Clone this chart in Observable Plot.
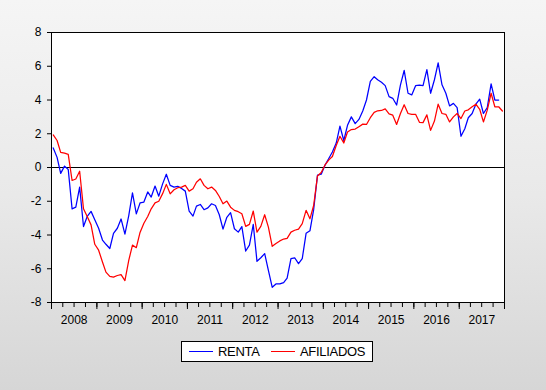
<!DOCTYPE html>
<html>
<head>
<meta charset="utf-8">
<script src="https://cdn.jsdelivr.net/npm/d3@7"></script>
<script src="https://cdn.jsdelivr.net/npm/@observablehq/plot@0.6"></script>
<style>
  html, body { margin: 0; padding: 0; }
  body {
    width: 546px; height: 390px; overflow: hidden; position: relative;
    background: linear-gradient(to bottom, #f5f5f5 0%, #e9e9e9 50%, #d6d6d6 100%);
    font-family: "Liberation Sans", Arial, sans-serif;
  }
  #chart { position: absolute; left: 0; top: 0; }
  #legend {
    position: absolute; left: 181px; top: 341px; width: 190px; height: 19px;
    border: 1px solid #000; background: #fff; font-size: 13px; letter-spacing: -0.3px; color: #000;
  }
  #legend .sw { position: absolute; top: 9px; height: 1px; width: 24px; }
  #legend .lb { position: absolute; top: 2px; line-height: 15px; }
</style>
</head>
<body>
<div id="chart"></div>
<div id="legend"></div>
<script>
// ---- data (monthly, starting January 2008) ----
const startYear = 2008;
const seriesNames = ["RENTA", "AFILIADOS"];
const seriesColors = ["#0000ff", "#ff0000"];

const renta = [
  1.16, 0.6, -0.35, 0.08, -0.12, -2.45, -2.35, -1.16, -3.5, -2.9, -2.6, -3.1,
  -3.6, -4.3, -4.55, -4.8, -3.9, -3.6, -3.05, -3.95, -2.85, -1.5, -2.75, -2.1,
  -2.05, -1.45, -1.75, -1.1, -1.7, -0.97, -0.4, -1.06, -1.16, -1.12, -1.24, -1.4,
  -2.58, -2.88, -2.29, -2.19, -2.5, -2.39, -2.15, -2.25, -2.8, -3.65, -2.95, -2.68,
  -3.63, -3.83, -3.5, -4.95, -4.6, -3.37, -5.56, -5.35, -5.1, -6.1, -7.1, -6.9,
  -6.9, -6.82, -6.55, -5.4, -5.35, -5.7, -5.4, -3.9, -3.75, -2.5, -0.45, -0.4,
  0.15, 0.55, 0.92, 1.45, 2.45, 1.6, 2.5, 3.0, 2.6, 2.85, 3.35, 4.0,
  5.1, 5.38, 5.2, 5.05, 4.85, 4.2, 4.1, 3.7, 4.9, 5.75, 4.4, 4.3,
  4.85, 4.88, 4.85, 5.8, 4.4, 5.2, 6.2, 4.9, 4.4, 3.65, 3.8, 3.55,
  1.85, 2.3, 2.95, 3.2, 3.75, 4.05, 3.2, 3.55, 4.95, 4.0, 4.0
];

const afiliados = [
  1.93, 1.6, 0.9, 0.85, 0.78, -0.77, -0.68, -0.22, -2.45, -2.9, -3.4, -4.55,
  -4.9, -5.6, -6.2, -6.45, -6.5, -6.4, -6.35, -6.7, -5.5, -4.6, -4.75, -3.85,
  -3.3, -2.9, -2.45, -2.1, -2.0, -1.55, -1.0, -1.56, -1.32, -1.2, -1.16, -1.06,
  -1.4, -1.26, -0.87, -0.67, -1.06, -1.26, -1.16, -1.36, -1.72, -2.15, -1.99, -2.35,
  -2.54, -2.62, -2.74, -3.49, -3.37, -2.58, -3.83, -3.49, -2.8, -3.53, -4.67, -4.5,
  -4.35, -4.24, -4.2, -3.83, -3.72, -3.65, -3.33, -2.54, -3.04, -2.25, -0.5, -0.3,
  0.15, 0.45, 0.65, 1.3, 1.85, 1.45, 2.1, 2.25, 2.28, 2.42, 2.57, 2.55,
  2.95, 3.27, 3.36, 3.38, 3.47, 3.18, 3.1, 2.55, 3.2, 3.72, 3.2, 3.15,
  3.15, 2.68, 2.66, 3.12, 2.2, 2.75, 3.75, 3.2, 3.15, 2.7, 3.0, 3.2,
  2.9, 3.35, 3.42, 3.6, 3.75, 3.45, 2.7, 3.4, 4.4, 3.6, 3.6, 3.35
];

const yTicks = [-8, -6, -4, -2, 0, 2, 4, 6, 8];
const yearLabels = [2008, 2009, 2010, 2011, 2012, 2013, 2014, 2015, 2016, 2017];

// ---- build table ----
const monthDate = i => new Date(Date.UTC(startYear, i, 15));
const rows = [];
[renta, afiliados].forEach((arr, s) =>
  arr.forEach((v, i) => rows.push({date: monthDate(i), value: v, series: seriesNames[s]}))
);

const x0 = new Date(Date.UTC(yearLabels[0], 0, 1));
const x1 = new Date(Date.UTC(yearLabels[yearLabels.length - 1] + 1, 0, 1));
const quarterTicks = d3.utcMonth.every(3).range(x0, new Date(+x1 + 1));
const yearTicks = d3.utcYear.range(x0, new Date(+x1 + 1));
const midYears = yearLabels.map(y => new Date(Date.UTC(y, 6, 2)));

const chart = Plot.plot({
  width: 546,
  height: 390,
  marginLeft: 51,
  marginRight: 42,
  marginTop: 32,
  marginBottom: 88,
  style: {background: "transparent", fontFamily: "'Liberation Sans', Arial, sans-serif", fontSize: "12px", color: "#000", overflow: "visible"},
  x: {type: "utc", domain: [x0, x1], label: null},
  y: {domain: [-8, 8], label: null},
  color: {domain: seriesNames, range: seriesColors},
  marks: [
    Plot.frame({fill: "white"}),
    Plot.ruleY([0], {stroke: "#000", strokeWidth: 1}),
    Plot.line(rows, {x: "date", y: "value", z: "series", stroke: "series", strokeWidth: 1.25}),
    Plot.frame({stroke: "#000", strokeWidth: 1}),
    Plot.axisY(yTicks, {tickSize: 4, tickPadding: 6, tickFormat: d => String(d), fontSize: 12, label: null}),
    Plot.axisX(quarterTicks, {tickSize: 5, tickFormat: () => "", label: null}),
    Plot.axisX(yearTicks, {tickSize: 7, tickFormat: () => "", label: null}),
    Plot.axisX(midYears, {tickSize: 0, tickPadding: 13, tickFormat: d => String(d.getUTCFullYear()), fontSize: 12, label: null})
  ]
});
document.getElementById("chart").appendChild(chart);

// ---- legend ----
const legend = document.getElementById("legend");
const legendLayout = [{sw: 7, lb: 36}, {sw: 89, lb: 118}];
seriesNames.forEach((name, i) => {
  const sw = document.createElement("div");
  sw.className = "sw";
  sw.style.left = legendLayout[i].sw + "px";
  sw.style.background = seriesColors[i];
  legend.appendChild(sw);
  const lb = document.createElement("div");
  lb.className = "lb";
  lb.style.left = legendLayout[i].lb + "px";
  lb.textContent = name;
  legend.appendChild(lb);
});
</script>
</body>
</html>
